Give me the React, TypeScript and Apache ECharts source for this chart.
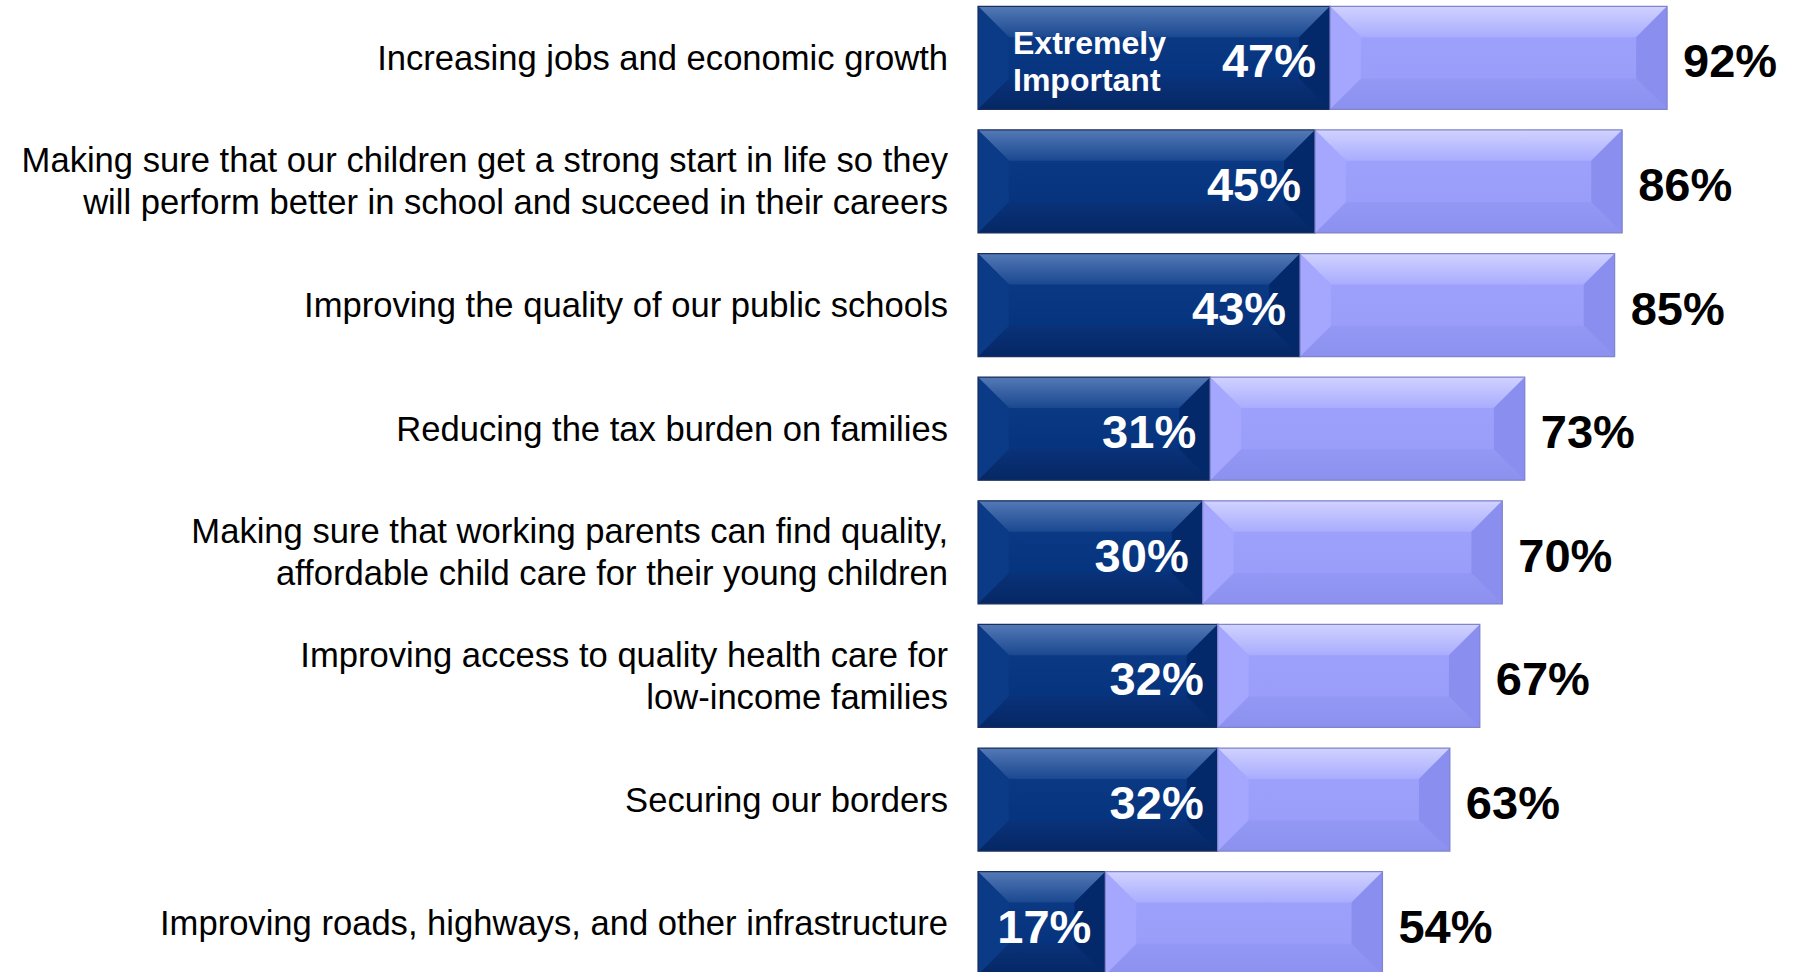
import React, { useEffect, useRef } from "react";
import * as echarts from "echarts";

const categories = [
  "Increasing jobs and economic growth",
  "Making sure that our children get a strong start in life so they\nwill perform better in school and succeed in their careers",
  "Improving the quality of our public schools",
  "Reducing the tax burden on families",
  "Making sure that working parents can find quality,\naffordable child care for their young children",
  "Improving access to quality health care for\nlow-income families",
  "Securing our borders",
  "Improving roads, highways, and other infrastructure",
];
const extremelyImportant = [47, 45, 43, 31, 30, 32, 32, 17];
const totalImportant = [92, 86, 85, 73, 70, 67, 63, 54];
const innerLabel = "Extremely\nImportant";

const FONT = "'Liberation Sans', Arial, sans-serif";

type Palette = {
  faceTop: string; faceBottom: string;
  topA: string; topB: string;
  left: string; right: string;
  bottomA: string; bottomB: string;
  border: string;
};

const darkPal: Palette = {
  faceTop: "#0f3c88", faceBottom: "#02307a",
  topA: "#5479b6", topB: "#1a4890",
  left: "#0b3a86", right: "#03296b",
  bottomA: "#0a3279", bottomB: "#052764",
  border: "#1b2f5c",
};
const lightPal: Palette = {
  faceTop: "#a0a3fc", faceBottom: "#979bf8",
  topA: "#d0d2ff", topB: "#a9acfd",
  left: "#a4a7fd", right: "#8a8eef",
  bottomA: "#9498f5", bottomB: "#8c90ee",
  border: "#8084cc",
};

function vgrad(a: string, b: string) {
  return new echarts.graphic.LinearGradient(0, 0, 0, 1, [
    { offset: 0, color: a },
    { offset: 1, color: b },
  ]);
}

function makeRender(pal: Palette, kind: "dark" | "light") {
  return (params: any, api: any) => {
    const cat = api.value(0);
    const s = api.value(1);
    const e = api.value(2);
    const p0 = api.coord([s, cat]);
    const p1 = api.coord([e, cat]);
    const band = Math.abs(api.size([0, 1])[1]);
    const h = band * 0.833;
    const x = p0[0];
    const y = p0[1] - h / 2;
    const w = p1[0] - p0[0];
    const d = Math.min(h * 0.3, w / 2);
    const children: any[] = [
      { type: "rect", shape: { x, y, width: w, height: h }, style: { fill: vgrad(pal.faceTop, pal.faceBottom) } },
      { type: "polygon", shape: { points: [[x, y], [x + w, y], [x + w - d, y + d], [x + d, y + d]] }, style: { fill: vgrad(pal.topA, pal.topB) } },
      { type: "polygon", shape: { points: [[x, y + h], [x + w, y + h], [x + w - d, y + h - d], [x + d, y + h - d]] }, style: { fill: vgrad(pal.bottomA, pal.bottomB) } },
      { type: "polygon", shape: { points: [[x, y], [x + d, y + d], [x + d, y + h - d], [x, y + h]] }, style: { fill: pal.left } },
      { type: "polygon", shape: { points: [[x + w, y], [x + w - d, y + d], [x + w - d, y + h - d], [x + w, y + h]] }, style: { fill: pal.right } },
      { type: "rect", shape: { x, y, width: w, height: h }, style: { fill: "none", stroke: pal.border, lineWidth: 1.2 } },
    ];
    if (kind === "dark") {
      children.push({
        type: "text",
        x: x + w - 14,
        y: p0[1] + 3,
        style: { text: e + "%", fill: "#ffffff", fontSize: 47, fontWeight: "bold", fontFamily: FONT, align: "right", verticalAlign: "middle" },
      });
      if (params.dataIndex === 0) {
        children.push({
          type: "text",
          x: x + 35,
          y: p0[1] + 4,
          style: { text: innerLabel, fill: "#ffffff", fontSize: 32, fontWeight: "bold", fontFamily: FONT, align: "left", verticalAlign: "middle", lineHeight: 37 },
        });
      }
    } else {
      children.push({
        type: "text",
        x: x + w + 16,
        y: p0[1] + 3,
        style: { text: e + "%", fill: "#000000", fontSize: 47, fontWeight: "bold", fontFamily: FONT, align: "left", verticalAlign: "middle" },
      });
    }
    return { type: "group", children };
  };
}

export default function App() {
  const ref = useRef<HTMLDivElement>(null);
  useEffect(() => {
    document.body.style.margin = "0";
    document.body.style.overflow = "hidden";
    if (!ref.current) return;
    const chart = echarts.init(ref.current, null, { renderer: "svg" });
    const darkData = categories.map((_, i) => [i, 0, extremelyImportant[i]]);
    const lightData = categories.map((_, i) => [i, extremelyImportant[i], totalImportant[i]]);
    chart.setOption({
      animation: false,
      backgroundColor: "#ffffff",
      grid: { left: 978, width: 749, top: 0, height: 989 },
      xAxis: { type: "value", min: 0, max: 100, show: false },
      yAxis: {
        type: "category",
        data: categories,
        inverse: true,
        axisLine: { show: false },
        axisTick: { show: false },
        splitLine: { show: false },
        axisLabel: {
          margin: 30,
          fontSize: 34.6,
          lineHeight: 42,
          padding: [14, 0, 0, 0],
          color: "#000000",
          fontFamily: FONT,
          align: "right",
        },
      },
      series: [
        {
          type: "custom",
          renderItem: makeRender(darkPal, "dark"),
          encode: { x: [1, 2], y: 0 },
          data: darkData,
          clip: false,
        },
        {
          type: "custom",
          renderItem: makeRender(lightPal, "light"),
          encode: { x: [1, 2], y: 0 },
          data: lightData,
          clip: false,
        },
      ],
    });
    return () => chart.dispose();
  }, []);
  return (
    <div
      ref={ref}
      style={{ position: "absolute", left: 0, top: -4, width: 1795, height: 994 }}
    />
  );
}
